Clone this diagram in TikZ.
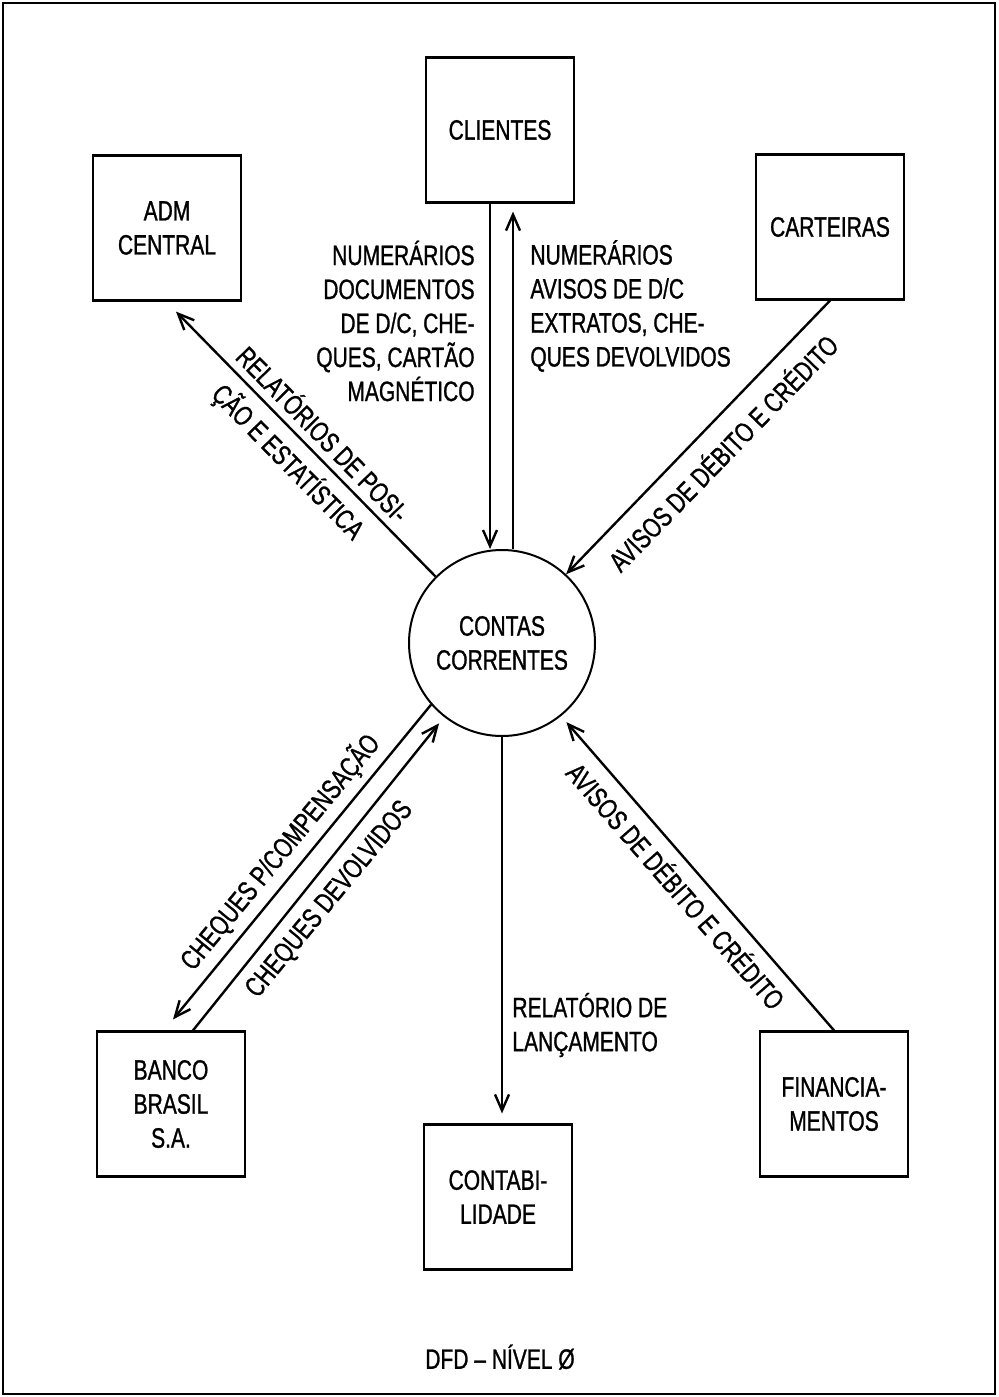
\documentclass[tikz,border=0pt]{standalone}
\usepackage{fontspec}
\setmainfont{Liberation Sans}[FakeStretch=0.75,FakeBold=1]
\usetikzlibrary{arrows.meta}

\begin{document}
\begin{tikzpicture}[x=0.5pt,y=-0.5pt,
  every node/.style={font=\fontsize{14}{17}\selectfont},
  entity/.style={draw,line width=1.1pt,minimum width=74pt,minimum height=72.5pt,align=center,inner sep=0pt},
  process/.style={draw,circle,line width=1pt,minimum size=93pt,align=center,inner sep=0pt},
  flow/.style={line width=1.2pt,-{Straight Barb[length=8pt,width=7pt]}},
  lbl/.style={inner sep=0pt}]

\useasboundingbox (0,0) rectangle (998,1397);
\draw[line width=1.3pt] (3,3) rectangle (995,1394);

% external entities
\node[entity] (cli) at (500,130) {CLIENTES};
\node[entity] (adm) at (167,228) {ADM\\CENTRAL};
\node[entity] (car) at (830,227) {CARTEIRAS};
\node[entity] (ban) at (171,1104) {BANCO\\BRASIL\\S.A.};
\node[entity] (ctb) at (498,1197) {CONTABI-\\LIDADE};
\node[entity] (fin) at (834,1104) {FINANCIA-\\MENTOS};

% central process
\node[process] (cc) at (502,643) {CONTAS\\CORRENTES};

% flows with clients
\draw[flow] ([xshift=-5pt]cli.south) -- ([xshift=-6pt]cc.north);
\draw[flow,shorten >=4pt] ([xshift=5.5pt]cc.north) -- ([xshift=6.5pt]cli.south);
\node[lbl,align=right,anchor=east] (inlbl) at (475,321)
  {NUMERÁRIOS\\DOCUMENTOS\\DE D/C, CHE-\\QUES, CARTÃO\\MAGNÉTICO};
\node[lbl,align=left,anchor=west] (outlbl) at (530,306)
  {NUMERÁRIOS\\AVISOS DE D/C\\EXTRATOS, CHE-\\QUES DEVOLVIDOS};

% flow to central administration
\draw[flow] (cc.135) -- ([xshift=4.5pt,yshift=-5pt]adm.south);
\node[lbl,rotate=-45.6] (admA) at (324,433) {RELATÓRIOS DE POSI-};
\node[lbl,rotate=-45.6] (admB) at (288,462) {ÇÃO E ESTATÍSTICA};

% flow from portfolios
\draw[flow] (car.south) -- (cc.47);
\node[lbl,rotate=45.9] (carl) at (722,452) {AVISOS DE DÉBITO E CRÉDITO};

% flows with the bank
\draw[flow] (cc.221.5) -- ([xshift=1pt,yshift=5.5pt]ban.north);
\node[lbl,rotate=50.5] (banA) at (280,852) {CHEQUES P/COMPENSAÇÃO};
\draw[flow,shorten >=4pt] ([xshift=11pt]ban.north) -- (cc.232);
\node[lbl,rotate=50.5] (banB) at (330,900) {CHEQUES DEVOLVIDOS};

% flow to accounting
\draw[flow,shorten >=5pt] (cc.south) -- (cc.south |- ctb.north);
\node[lbl,align=left,anchor=west] (ctbl) at (512,1025) {RELATÓRIO DE\\LANÇAMENTO};

% flow from financing
\draw[flow,shorten >=4pt] (fin.north) -- (cc.-51);
\node[lbl,rotate=-49] (finl) at (677,885) {AVISOS DE DÉBITO E CRÉDITO};

% caption
\node (title) at (500,1357) {DFD -- NÍVEL Ø};
\end{tikzpicture}
\end{document}
